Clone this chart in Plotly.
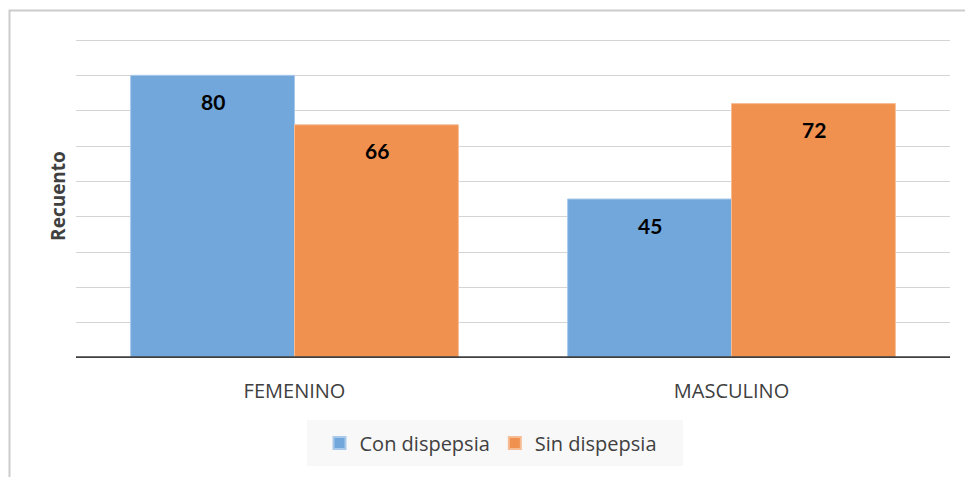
import plotly.graph_objects as go

categories = ["FEMENINO", "MASCULINO"]
con_dispepsia = [80, 45]
sin_dispepsia = [66, 72]
series_names = ["Con dispepsia", "Sin dispepsia"]

BLUE = "#72A7DB"
ORANGE = "#F0914F"
TXT = "#404040"
FONT = "Open Sans"

W, H = 965, 477
PL, PR, PT, PB = 76, 950, 34, 358  # plot area in page pixels
UNIT = (358 - 40) / 90.0            # pixels per unit (gridline 90 at y=40)
YMAX = (PB - PT) / UNIT
L, T, R, B = PL, PT, W - PR, H - PB
pw, ph = PR - PL, PB - PT

def px_x(p):
    return (p - PL) / pw

def px_y(p):
    return (PB - p) / ph

fig = go.Figure()
fig.add_trace(go.Bar(x=categories, y=con_dispepsia, name=series_names[0],
                     marker=dict(color=BLUE, line=dict(color="#a9c9ea", width=1))))
fig.add_trace(go.Bar(x=categories, y=sin_dispepsia, name=series_names[1],
                     marker=dict(color=ORANGE, line=dict(color="#f6bd95", width=1))))

for vals, shift in ((con_dispepsia, -82), (sin_dispepsia, 82)):
    for c, v in zip(categories, vals):
        fig.add_annotation(x=c, y=v, xref="x", yref="y", text=f"<b>{v}</b>",
                           showarrow=False, xshift=shift, yshift=-26,
                           font=dict(family="Lato", size=21, color="#000000"))

fig.update_layout(
    width=W, height=H,
    margin=dict(l=L, r=R, t=T, b=B),
    paper_bgcolor="white", plot_bgcolor="white",
    barmode="group", bargap=0.25, bargroupgap=0,
    showlegend=True,
    legend=dict(orientation="h", x=px_x(491), xanchor="center", y=px_y(443), yanchor="middle",
                font=dict(family=FONT, size=20, color=TXT), bgcolor="rgba(0,0,0,0)",
                itemsizing="constant", itemwidth=30),
    font=dict(family=FONT, color=TXT),
    shapes=[
        dict(type="rect", xref="paper", yref="paper",
             x0=px_x(307), x1=px_x(683), y0=px_y(466), y1=px_y(420),
             fillcolor="#f8f8f8", line=dict(width=0), layer="below"),
        dict(type="rect", xref="paper", yref="paper",
             x0=px_x(9.5), x1=px_x(990), y0=px_y(500), y1=px_y(10.5),
             fillcolor="rgba(0,0,0,0)", line=dict(color="#cccccc", width=2), layer="below"),
        dict(type="line", xref="paper", yref="y", x0=0, x1=1, y0=0, y1=0,
             line=dict(color="#404040", width=3.5), layer="above"),
    ],
)

fig.update_xaxes(showgrid=False, showline=False, ticks="", ticklabelstandoff=19,
                 tickfont=dict(family=FONT, size=20, color=TXT))
fig.update_yaxes(range=[0, YMAX], tick0=0, dtick=10, showgrid=True, gridcolor="#d4d4d4", gridwidth=1,
                 showticklabels=False, zeroline=False, showline=False,
                 title=dict(text="<b>Recuento</b>", font=dict(family=FONT, size=19, color=TXT),
                            standoff=4))

fig.write_html("out.html", config={"displayModeBar": False},
               post_script="document.body.style.margin='0px';document.body.style.overflow='hidden';")
